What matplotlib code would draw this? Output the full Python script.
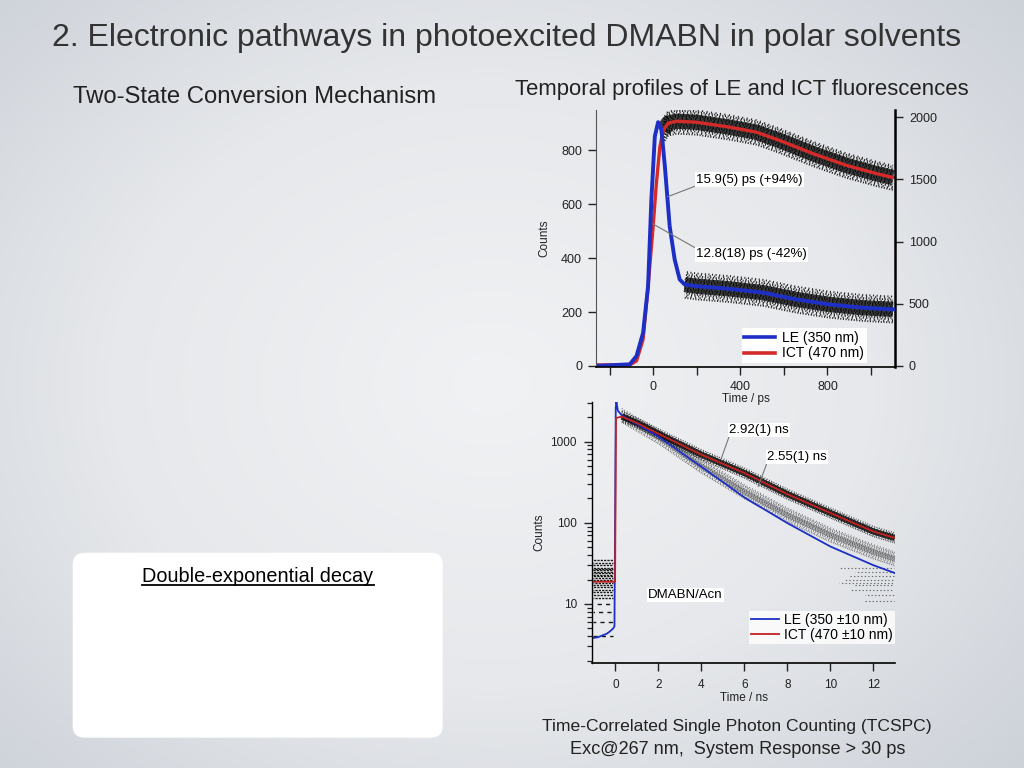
import numpy as np
import matplotlib.pyplot as plt
from matplotlib.colors import LinearSegmentedColormap
from matplotlib.patches import FancyBboxPatch
from matplotlib.lines import Line2D
from matplotlib.transforms import IdentityTransform, offset_copy
from matplotlib.ticker import FixedLocator, FuncFormatter, NullFormatter, LogLocator

plt.rcParams['font.family'] = ['Liberation Sans', 'DejaVu Sans']

# ---- top panel (ps window), LE on left axis, ICT on right axis
le_t = [-260, -107, -76, -46, -23, -8, 8, 23, 38, 54, 76, 99, 122, 145, 199, 352, 505, 657, 810, 963, 1101]
le_counts = [0, 6, 37, 123, 296, 617, 852, 905, 877, 741, 519, 395, 321, 302, 296, 286, 272, 247, 228, 216, 210]

ict_t = [-260, -107, -76, -46, -23, 0, 15, 31, 46, 69, 107, 199, 352, 474, 581, 734, 887, 1024, 1101]
ict_counts = [8, 8, 40, 213, 640, 1120, 1467, 1760, 1893, 1952, 1968, 1960, 1920, 1880, 1813, 1707, 1613, 1547, 1515]

# ---- bottom panel (ns window, log scale)
leb_t = [-1.07, -0.8, -0.6, -0.4, -0.25, -0.1, -0.04, -0.01, 0.02, 0.05, 0.12, 0.3, 1, 2, 4, 6, 8, 10, 12, 13]
leb_counts = [3.8, 3.9, 4.1, 4.3, 4.6, 5.0, 5.3, 100, 2600, 3080, 2400, 2100, 1650, 1150, 490, 205, 99, 51, 30, 24]

ictb_t = [-1.07, -0.05, -0.01, 0.03, 0.3, 1, 2, 4, 6, 8, 10, 12, 13]
ictb_counts = [18.8, 18.8, 19, 1950, 2030, 1700, 1250, 690, 410, 225, 132, 78, 65]

# LE raw data sits a little above the fit at long times
leb_data_t = [0.3, 2, 4, 6, 8, 10, 12, 13]
leb_data = [2100, 1150, 500, 242, 125, 71, 44, 36]

# discrete low-count levels before time zero and in the tail
pre_levels = [4, 6, 8, 10, 12, 13, 14, 15, 16, 17, 18, 19, 20, 21, 22, 23, 24, 25, 26, 27, 28, 30, 32, 35]
tail_levels = [11, 13, 15, 17, 18, 20, 22, 25, 28]

title = "2. Electronic pathways in photoexcited DMABN in polar solvents"

fig = plt.figure(figsize=(10.24, 7.68), dpi=100)

# slide background gradient
bg = fig.add_axes([0, 0, 1, 1], zorder=-10)
yy, xx = np.mgrid[0:1:240j, 0:1:320j]
r = np.sqrt(((xx - 0.48) / 0.75) ** 2 + ((yy - 0.5) / 0.8) ** 2)
cmap = LinearSegmentedColormap.from_list("slide", ["#f1f2f4", "#e6e8eb", "#c9ced6"])
bg.imshow(np.clip(r, 0, 1), cmap=cmap, extent=[0, 1, 0, 1], aspect="auto", vmin=0, vmax=1)
bg.axis("off")

BLUE = "#1d2fc4"
RED = "#d42a2a"


def speckle(ax, x, y, half, step, color, lw, alpha):
    # noisy data cloud drawn as offset dotted copies of the curve
    offs = np.arange(-half, half + 0.01, step)
    for k, dy in enumerate(offs):
        tr = offset_copy(ax.transData, fig=fig, x=0, y=dy, units="points")
        ax.plot(x, y, transform=tr, color=color, lw=lw, alpha=alpha,
                ls=((k * 1.7) % 2.9, (0.6, 0.9 + 0.5 * ((k * 2) % 3))))


# ================= top panel =================
ax1 = fig.add_axes([596 / 1024, 1 - 367 / 768, 299 / 1024, 257 / 768])
ax1r = ax1.twinx()
ax1.set_zorder(ax1r.get_zorder() + 1)
ax1.patch.set_visible(False)

ax1r.plot(ict_t[8:], ict_counts[8:], color="#111111", lw=11, alpha=0.8, solid_capstyle="butt")
speckle(ax1r, ict_t[8:], ict_counts[8:], 9, 1.1, "black", 1.3, 0.85)
ax1r.plot(ict_t, ict_counts, color=RED, lw=2.4)

ax1.plot(le_t[13:], le_counts[13:], color="#111111", lw=11, alpha=0.8, solid_capstyle="butt")
speckle(ax1, le_t[13:], le_counts[13:], 9.5, 1.1, "black", 1.3, 0.85)
ax1.plot(le_t, le_counts, color=BLUE, lw=2.8)

ax1.set_xlim(-262, 1110)
ax1.set_ylim(-4, 950)
ax1r.set_ylim(-8.7, 2058)

ax1.xaxis.set_major_locator(FixedLocator([0, 400, 800]))
ax1.xaxis.set_minor_locator(FixedLocator([-200, 200, 600, 1000]))
ax1.yaxis.set_major_locator(FixedLocator([0, 200, 400, 600, 800]))
ax1r.yaxis.set_major_locator(FixedLocator([0, 500, 1000, 1500, 2000]))

for a in (ax1, ax1r):
    a.spines["top"].set_visible(False)
ax1.spines["right"].set_visible(False)
ax1r.spines["left"].set_visible(False)
ax1r.spines["bottom"].set_visible(False)
ax1.spines["left"].set_linewidth(0.8)
ax1.spines["left"].set_color("#555555")
ax1.spines["bottom"].set_linewidth(1.2)
ax1r.spines["right"].set_linewidth(1.8)

ax1.tick_params(axis="both", which="both", direction="out", length=6, width=1, labelsize=9,
                colors="#222222", pad=4)
ax1r.tick_params(axis="y", direction="out", length=6, width=1, labelsize=9, colors="#222222", pad=4)
ax1.set_xlabel("Time / ps", fontsize=8.5, labelpad=0, color="#222222")
ax1.set_ylabel("Counts", fontsize=8.5, labelpad=8, color="#222222")

lead = dict(arrowstyle="-", color="#777777", lw=0.8, shrinkA=0, shrinkB=0)
box = dict(boxstyle="square,pad=0.1", fc="white", ec="none")
ax1.annotate("15.9(5) ps (+94%)", xy=(66, 628), xytext=(198, 691), fontsize=9.5, va="center",
             bbox=box, arrowprops=dict(lead, relpos=(0, 0)), zorder=5)
ax1.annotate("12.8(18) ps (-42%)", xy=(-3, 528), xytext=(198, 414), fontsize=9.5, va="center",
             bbox=box, arrowprops=dict(lead, relpos=(0, 1)), zorder=5)

h_top = [Line2D([], [], color=BLUE, lw=2.6), Line2D([], [], color=RED, lw=2.6)]
leg = ax1.legend(h_top, ["LE (350 nm)", "ICT (470 nm)"], loc="lower right", bbox_to_anchor=(0.905, 0.015),
                 fontsize=10, frameon=True, fancybox=False, handlelength=2.2, handletextpad=0.5,
                 borderpad=0.2, labelspacing=0.1, borderaxespad=0)
leg.get_frame().set_edgecolor("none")
leg.get_frame().set_facecolor("white")
leg.get_frame().set_alpha(1)

# ================= bottom panel =================
ax2 = fig.add_axes([592.3 / 1024, 1 - 663.3 / 768, 302.7 / 1024, 261.6 / 768])
ax2.patch.set_visible(False)
ax2.set_yscale("log")

for i, lv in enumerate(pre_levels):
    ls = (i % 4, (3, 3)) if lv < 12 else (i % 3, (1.6, 0.8))
    ax2.hlines(lv, -1.04, -0.12, color="black", lw=1.0, linestyles=[ls], alpha=0.9)
for i, lv in enumerate(tail_levels):
    start = 11.6 if lv < 14 else 10.4 + 0.25 * (i % 4)
    ax2.hlines(lv, start, 12.95, color="#333333", lw=0.8, linestyles=[(i % 3, (1.2, 2.0))], alpha=0.7)

ax2.plot(leb_data_t, leb_data, color="#666666", lw=4, alpha=0.45, solid_capstyle="butt")
speckle(ax2, leb_data_t, leb_data, 5, 1.0, "#333333", 0.9, 0.75)
ax2.plot(ictb_t[4:], ictb_counts[4:], color="black", lw=4.5, alpha=0.75, solid_capstyle="butt")
speckle(ax2, ictb_t[4:], ictb_counts[4:], 3.6, 0.9, "black", 0.9, 0.85)
ax2.plot(leb_t, leb_counts, color=BLUE, lw=1.3)
ax2.plot(ictb_t, ictb_counts, color="#c42020", lw=1.3)

ax2.set_xlim(-1.07, 13.0)
ax2.set_ylim(1.86, 3100)
ax2.xaxis.set_major_locator(FixedLocator([0, 2, 4, 6, 8, 10, 12]))
ax2.yaxis.set_major_locator(FixedLocator([10, 100, 1000]))
ax2.yaxis.set_minor_locator(LogLocator(base=10, subs=range(2, 10)))
ax2.yaxis.set_major_formatter(FuncFormatter(lambda v, p: f"{v:.0f}"))
ax2.yaxis.set_minor_formatter(NullFormatter())

ax2.spines["top"].set_visible(False)
ax2.spines["right"].set_visible(False)
ax2.spines["left"].set_linewidth(1.0)
ax2.spines["bottom"].set_linewidth(1.2)
ax2.tick_params(axis="both", which="major", direction="out", length=6, width=1, labelsize=8.5,
                colors="#222222", pad=5)
ax2.tick_params(axis="y", which="minor", direction="out", length=3.5, width=0.9, colors="#222222")
ax2.set_xlabel("Time / ns", fontsize=8.5, labelpad=1, color="#222222")
ax2.set_ylabel("Counts", fontsize=8.5, labelpad=4, color="#222222")

ax2.annotate("2.92(1) ns", xy=(4.93, 625), xytext=(5.3, 1394), fontsize=9.5, va="center",
             bbox=box, arrowprops=dict(lead, relpos=(0, 0)), zorder=5)
ax2.annotate("2.55(1) ns", xy=(6.64, 279), xytext=(7.05, 648), fontsize=9.5, va="center",
             bbox=box, arrowprops=dict(lead, relpos=(0, 0)), zorder=5)
ax2.text(1.52, 12.9, "DMABN/Acn", fontsize=9.5, va="center", bbox=box, zorder=5)

h_bot = [Line2D([], [], color=BLUE, lw=1.3), Line2D([], [], color="#c42020", lw=1.3)]
leg2 = ax2.legend(h_bot, ["LE (350 \u00b110 nm)", "ICT (470 \u00b110 nm)"], loc="lower right",
                  bbox_to_anchor=(1.0, 0.075), fontsize=10, frameon=True, fancybox=False,
                  handlelength=2.0, handletextpad=0.4, borderpad=0.15, labelspacing=0.05, borderaxespad=0)
leg2.get_frame().set_edgecolor("none")
leg2.get_frame().set_facecolor("white")

# ================= slide text =================
t_title = fig.text(52 / 1024, 1 - 38 / 768, title, fontsize=20, color="#333333", va="center")
t_left = fig.text(73 / 1024, 1 - 97 / 768, "Two-State Conversion Mechanism", fontsize=15, color="#222222", va="center")
t_right = fig.text(515 / 1024, 1 - 89 / 768, "Temporal profiles of LE and ICT fluorescences", fontsize=15,
                   color="#222222", va="center")
t_cap1 = fig.text(737 / 1024, 1 - 727 / 768, "Time-Correlated Single Photon Counting (TCSPC)", fontsize=12.5,
                  color="#222222", ha="center", va="center")
t_cap2 = fig.text(738 / 1024, 1 - 749 / 768, "Exc@267 nm,  System Response > 30 ps", fontsize=12.5,
                  color="#222222", ha="center", va="center")

# white rounded box on the left
card = FancyBboxPatch((72.7, 768 - 737.7), 370, 185, boxstyle="round,pad=0,rounding_size=12",
                      transform=IdentityTransform(), fc="white", ec="none", zorder=1)
fig.patches.append(card)
t_box = fig.text(258 / 1024, 1 - 576.5 / 768, "Double-exponential decay", fontsize=13, color="black",
                 ha="center", va="center", zorder=2)

# scale slide texts so their widths match the slide
renderer = fig.canvas.get_renderer()
for txt, target in [(t_title, 908), (t_left, 365), (t_right, 453), (t_cap1, 391), (t_cap2, 337), (t_box, 230)]:
    w = txt.get_window_extent(renderer=renderer).width
    txt.set_fontsize(txt.get_fontsize() * target / w)

bb = t_box.get_window_extent(renderer=renderer)
fig.add_artist(Line2D([bb.x0, bb.x1], [768 - 584.5, 768 - 584.5], color="black", lw=1.3,
                      transform=IdentityTransform(), zorder=3))

fig.savefig("out.png", dpi=100)
